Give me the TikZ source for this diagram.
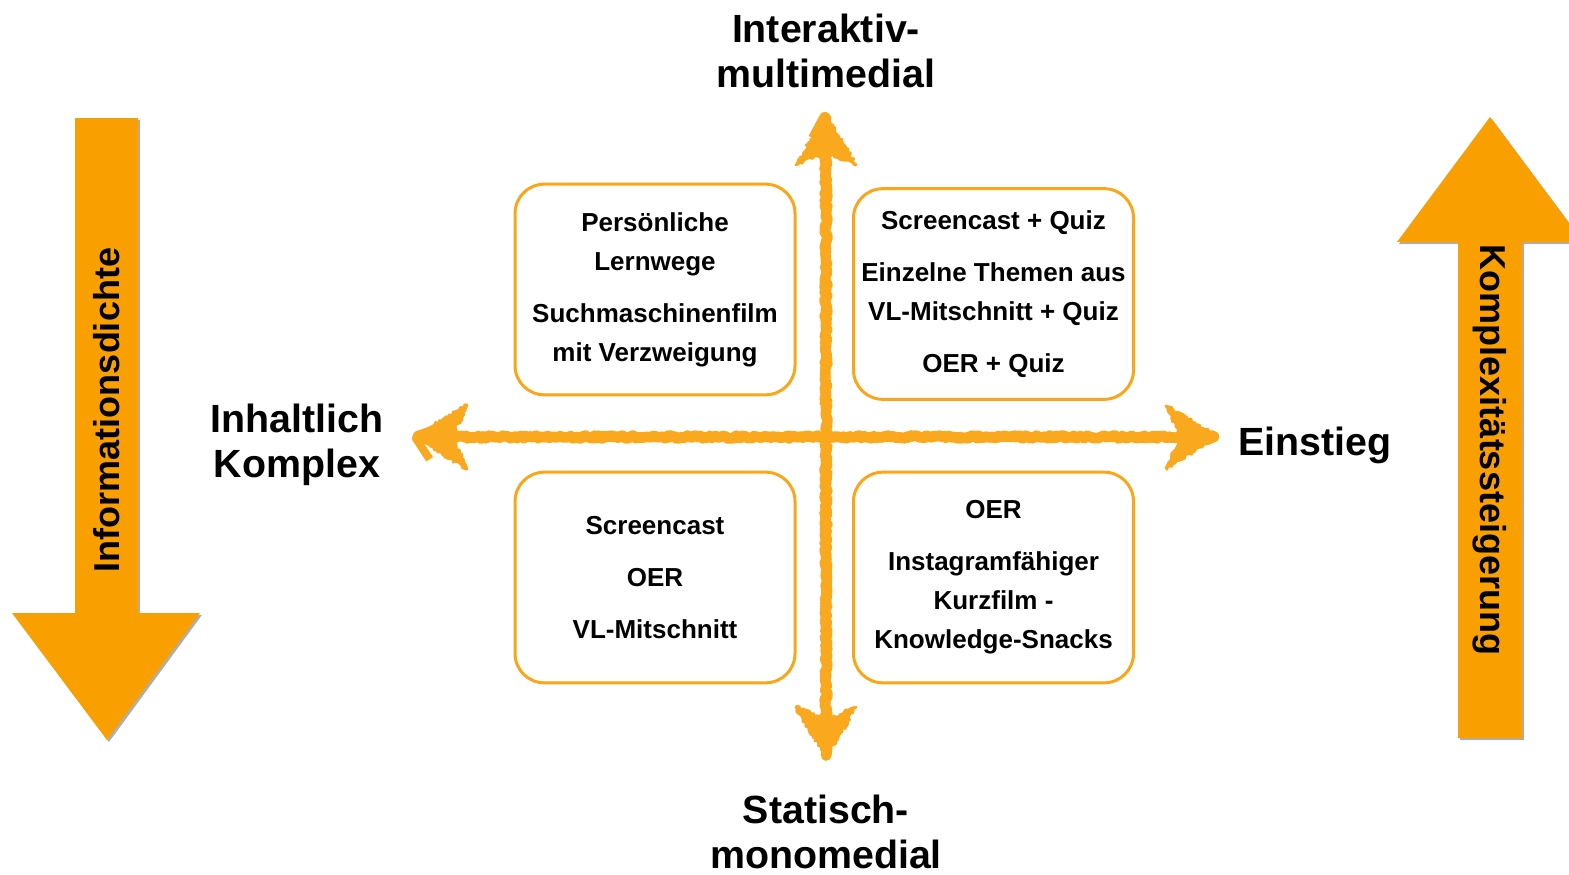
\documentclass[tikz,border=0pt]{standalone}
\usepackage{fontspec}
\setmainfont{Liberation Sans}
\usetikzlibrary{decorations.pathmorphing,shadows}

\definecolor{kastenorange}{RGB}{250,166,26}
\definecolor{pfeilorange}{RGB}{249,160,0}
\definecolor{kreideorange}{RGB}{250,168,30}

\tikzset{every picture/.style={line width=0.75pt}}
\tikzset{
  kreide/.style={draw=kreideorange, line width=8pt, line join=round,
    decorate, decoration={random steps, segment length=1.5pt, amplitude=1.1pt}},
  kreidespitze/.style={fill=kreideorange, draw=kreideorange, line width=2pt, line join=round,
    decorate, decoration={random steps, segment length=1.5pt, amplitude=1.3pt}},
  kasten/.style={draw=kastenorange, line width=2.25pt, rounded corners=22pt,
    minimum width=210pt, minimum height=158pt, align=center, inner sep=0pt,
    font=\fontsize{19.5}{29.25}\selectfont\bfseries},
  titel/.style={align=center, inner sep=0.75pt,
    font=\fontsize{29.5}{33.75}\selectfont\bfseries},
  blockpfeil/.style={fill=pfeilorange,
    drop shadow={shadow xshift=1.5pt, shadow yshift=-1.5pt, opacity=0.45, fill=black!70}},
  pfeiltext/.style={inner sep=0.75pt, font=\fontsize{27}{30}\selectfont\bfseries}
}

\begin{document}
\begin{tikzpicture}[x=0.75pt,y=0.75pt,yscale=-1,xscale=1]
\useasboundingbox (0,0) rectangle (1569,874);

%Shape: Block Arrow down
\fill[blockpfeil] (75,118) -- (138,118) -- (138,613) -- (200,613) -- (107,740) -- (12,613) -- (75,613) -- cycle ;
%Shape: Block Arrow up
\fill[blockpfeil] (1458,738) -- (1522,738) -- (1522,242) -- (1583,242) -- (1490,117) -- (1397,242) -- (1458,242) -- cycle ;

% Axis ends
\coordinate (achseO) at (826,115);
\coordinate (achseU) at (826,757);
\coordinate (achseL) at (415,437);
\coordinate (achseR) at (1218,437);

%Crayon Lines
\draw[kreide, shorten <=20pt, shorten >=20pt] (achseL) -- (achseR) ;
\draw[kreide, line width=6pt, shorten <=20pt, shorten >=20pt] (achseL) -- (achseR) ;
\draw[kreide, shorten <=20pt, shorten >=20pt] (achseO) -- (achseU) ;
\draw[kreide, line width=6pt, shorten <=20pt, shorten >=20pt] (achseO) -- (achseU) ;
%Crayon Heads
\filldraw[kreidespitze] (achseL) -- ++(52,-32) -- ++(-15,32) -- ++(15,32) -- cycle ;
\filldraw[kreidespitze] (achseR) -- ++(-52,-31) -- ++(15,31) -- ++(-15,31) -- cycle ;
\filldraw[kreidespitze] (achseO) -- ++(-30,50) -- ++(30,-13) -- ++(30,13) -- cycle ;
\filldraw[kreidespitze] (achseU) -- ++(-30,-50) -- ++(30,13) -- ++(30,-13) -- cycle ;

%Shape: Rounded Rect
\node[kasten] (persoenlich) at (655,289.5) {Persönliche\\Lernwege\\[9.75pt]Suchmaschinenfilm\\mit Verzweigung};
%Shape: Rounded Rect
\node[kasten] (quiz) at (993.5,294) {Screencast + Quiz\\[9.75pt]Einzelne Themen aus\\VL-Mitschnitt + Quiz\\[9.75pt]OER + Quiz};
%Shape: Rounded Rect
\node[kasten] (screencast) at (655,577.5) {Screencast\\[9.75pt]OER\\[9.75pt]VL-Mitschnitt};
%Shape: Rounded Rect
\node[kasten] (snacks) at (993.5,577.5) {OER\\[9.75pt]Instagramfähiger\\Kurzfilm -\\Knowledge-Snacks};

% Text Node
\node[titel] (interaktiv) at (826,51) {Interaktiv-\\multimedial};
% Text Node
\node[titel] (statisch) at (826,832) {Statisch-\\monomedial};
% Text Node
\node[titel] (komplex) at (297,445) {Inhaltlich\\Komplex};
% Text Node
\node[titel] (einstieg) at (1315,445) {Einstieg};
% Text Node
\node[pfeiltext, rotate=90] (dichte) at (107,410) {Informationsdichte};
% Text Node
\node[pfeiltext, rotate=-90] (steigerung) at (1490,450) {Komplexitätssteigerung};

\end{tikzpicture}
\end{document}
